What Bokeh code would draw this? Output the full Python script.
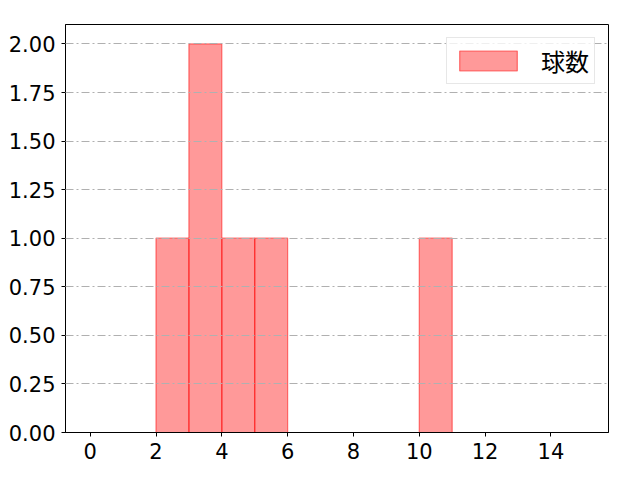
from bokeh.plotting import figure
from bokeh.models import FixedTicker, NumeralTickFormatter, Range1d
from bokeh.embed import file_html
from bokeh.resources import INLINE

# histogram bins (edges) and counts
bin_edges = [0, 1, 2, 3, 4, 5, 6, 7, 8, 9, 10, 11, 12, 13, 14, 15]
counts = [0, 0, 1, 2, 1, 1, 0, 0, 0, 0, 1, 0, 0, 0, 0]
label = "球数"
x_ticks = [0, 2, 4, 6, 8, 10, 12, 14]
y_ticks = [0, 0.25, 0.5, 0.75, 1.0, 1.25, 1.5, 1.75, 2.0]

tick_font = "DejaVu Sans"
cjk_font = "Noto Sans CJK JP"

p = figure(frame_width=543, frame_height=408, output_backend="svg",
           toolbar_location=None, x_range=Range1d(-0.75, 15.75),
           y_range=Range1d(0, 2.1),
           min_border_top=24, min_border_left=65, min_border_right=15,
           min_border_bottom=30)

left = [bin_edges[i] for i in range(len(counts)) if counts[i] > 0]
right = [bin_edges[i + 1] for i in range(len(counts)) if counts[i] > 0]
top = [c for c in counts if c > 0]

p.quad(left=left, right=right, bottom=0, top=top,
       fill_color="red", fill_alpha=0.4, line_color="red", line_alpha=0.5,
       line_width=1.2, legend_label=label)

p.xgrid.grid_line_color = None
p.ygrid.grid_line_color = "#b0b0b0"
p.ygrid.grid_line_dash = "8 3 2 3"
p.ygrid.grid_line_width = 1
p.ygrid.level = "overlay"
p.ygrid.ticker = FixedTicker(ticks=y_ticks)

p.xaxis.ticker = FixedTicker(ticks=x_ticks)
p.yaxis.ticker = FixedTicker(ticks=y_ticks)
p.yaxis.formatter = NumeralTickFormatter(format="0.00")
for ax in (p.xaxis, p.yaxis):
    ax.major_label_text_font = tick_font
    ax.major_label_text_font_size = "21px"
    ax.major_label_text_color = "black"
    ax.minor_tick_line_color = None
    ax.major_tick_out = 4
    ax.major_tick_in = 0
    ax.major_tick_line_color = "black"
    ax.axis_line_color = "black"
    ax.major_label_standoff = 6

p.outline_line_color = "black"
p.outline_line_width = 1
p.outline_line_alpha = 1

p.legend.location = "top_right"
p.legend.label_text_font = cjk_font
p.legend.label_text_font_size = "24px"
p.legend.label_text_color = "black"
p.legend.border_line_color = "#d0d0d0"
p.legend.margin = 13
p.legend.padding = 5
p.legend.glyph_width = 72
p.legend.glyph_height = 25
p.legend.label_standoff = 17
p.legend.label_height = 22
p.legend.background_fill_alpha = 0.8

open("out.html", "w").write(file_html(p, INLINE))
